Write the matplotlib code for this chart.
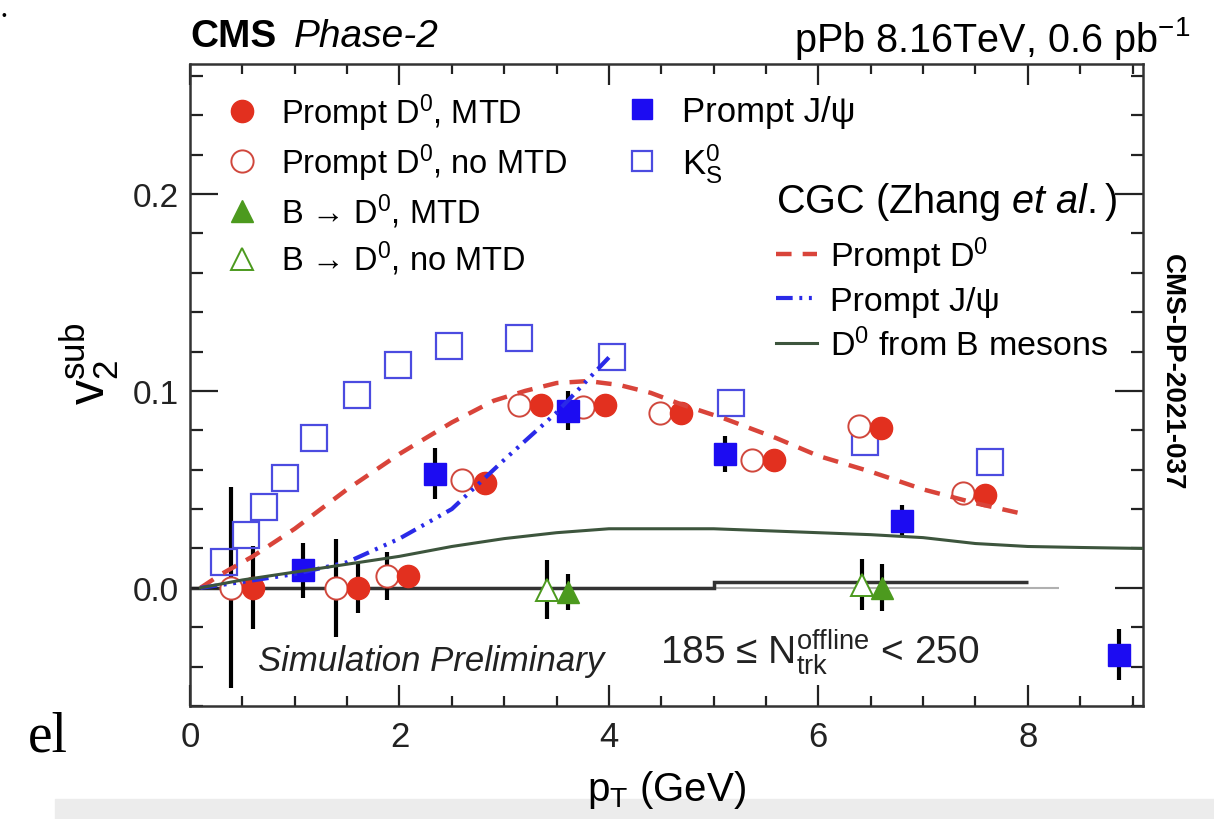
import numpy as np
import matplotlib
matplotlib.use("Agg")
import matplotlib.pyplot as plt
from matplotlib.lines import Line2D
from matplotlib.patches import Rectangle

plt.rcParams['font.family'] = ['Liberation Sans', 'DejaVu Sans']
plt.rcParams['mathtext.fontset'] = 'custom'
plt.rcParams['mathtext.rm'] = 'Liberation Sans'
plt.rcParams['mathtext.it'] = 'Liberation Sans:italic'
plt.rcParams['mathtext.bf'] = 'Liberation Sans:bold'

# Prompt D0 with MTD (filled red circles)
d0_mtd_pt = [0.60, 1.60, 2.08, 2.82, 3.35, 3.96, 4.69, 5.58, 6.60, 7.59]
d0_mtd_v2 = [0.000, 0.000, 0.006, 0.053, 0.093, 0.093, 0.089, 0.065, 0.081, 0.047]
d0_mtd_err = [0.021, 0.013, 0.004, 0.003, 0.003, 0.003, 0.003, 0.003, 0.003, 0.003]

# Prompt D0 without MTD (open red circles)
d0_nomtd_pt = [0.39, 1.39, 1.88, 2.60, 3.14, 3.75, 4.49, 5.37, 6.39, 7.38]
d0_nomtd_v2 = [0.000, 0.000, 0.006, 0.055, 0.093, 0.092, 0.089, 0.065, 0.082, 0.048]
d0_nomtd_err = [0.051, 0.025, 0.012, 0.004, 0.003, 0.003, 0.003, 0.003, 0.003, 0.003]

# B -> D0
b_mtd_pt = [3.61, 6.61]
b_mtd_v2 = [-0.002, 0.000]
b_mtd_err = [0.009, 0.012]
b_nomtd_pt = [3.41, 6.42]
b_nomtd_v2 = [-0.001, 0.0015]
b_nomtd_err = [0.015, 0.013]

# Prompt J/psi
jpsi_pt = [1.08, 2.34, 3.61, 5.11, 6.80, 8.87]
jpsi_v2 = [0.009, 0.058, 0.090, 0.068, 0.034, -0.034]
jpsi_err = [0.014, 0.013, 0.010, 0.009, 0.008, 0.013]

# K0S
ks_pt = [0.32, 0.53, 0.71, 0.91, 1.18, 1.59, 1.99, 2.47, 3.14, 4.03, 5.17, 6.45, 7.64]
ks_v2 = [0.013, 0.027, 0.041, 0.056, 0.076, 0.098, 0.113, 0.123, 0.127, 0.117, 0.094, 0.074, 0.064]

# CGC curves
cgc_d0_pt = [0.1, 0.3, 0.6, 1.0, 1.5, 2.0, 2.5, 2.9, 3.2, 3.5, 3.8, 4.1, 4.4, 4.7, 5.1, 5.6,
             6.0, 6.5, 7.0, 7.5, 8.0]
cgc_d0_v2 = [0.0, 0.007, 0.016, 0.030, 0.050, 0.068, 0.084, 0.095, 0.100, 0.104, 0.105, 0.103,
             0.099, 0.093, 0.086, 0.076, 0.067, 0.059, 0.050, 0.043, 0.037]
cgc_jpsi_pt = [0.1, 0.5, 1.0, 1.5, 2.0, 2.5, 3.0, 3.5, 4.0]
cgc_jpsi_v2 = [0.0, 0.003, 0.007, 0.013, 0.025, 0.040, 0.065, 0.089, 0.117]
cgc_b_pt = [0.1, 0.5, 1.0, 1.5, 2.0, 2.5, 3.0, 3.5, 4.0, 4.5, 5.0, 5.5, 6.0, 6.5, 7.0, 7.5, 8.0, 8.5, 9.1]
cgc_b_v2 = [0.0, 0.004, 0.008, 0.012, 0.016, 0.021, 0.025, 0.028, 0.030, 0.030, 0.030, 0.029,
            0.028, 0.027, 0.0255, 0.0225, 0.021, 0.0205, 0.020]

# baseline step near zero
base_edges = [0.0, 5.0, 8.0]
base_vals = [0.0, 0.003]

red = '#e2301f'
red_open = '#d0473c'
blue = '#1c0cf2'
blue_open = '#4b4be0'
green = '#4c9a1e'
dkgreen = '#3d553d'

W, H = 1214, 820
fig = plt.figure(figsize=(W / 100, H / 100), dpi=100)
ax = fig.add_axes([190 / W, 1 - 707 / H, 953 / W, 642 / H])


def fx(px):
    return px / W


def fy(py):
    return 1 - py / H


ax.hlines(0, 0, 8.3, color='#b0b0b0', lw=1.5, zorder=1)
ax.stairs(base_vals, base_edges, color='#333333', lw=2.5, baseline=None, zorder=1.5)

ekw = dict(fmt='none', ecolor='black', elinewidth=3, capsize=0, zorder=2)
ax.errorbar(d0_nomtd_pt, d0_nomtd_v2, yerr=d0_nomtd_err, **ekw)
ax.errorbar(d0_mtd_pt, d0_mtd_v2, yerr=d0_mtd_err, **ekw)
ax.errorbar(jpsi_pt, jpsi_v2, yerr=jpsi_err, **ekw)
ax.errorbar(b_mtd_pt, b_mtd_v2, yerr=b_mtd_err, **ekw)
ax.errorbar(b_nomtd_pt, b_nomtd_v2, yerr=b_nomtd_err, **ekw)

ax.plot(ks_pt, ks_v2, 's', ms=19, mfc='none', mec=blue_open, mew=1.6, zorder=3)
ax.plot(d0_nomtd_pt, d0_nomtd_v2, 'o', ms=16, mfc='white', mec=red_open, mew=1.4, zorder=3)
ax.plot(d0_mtd_pt, d0_mtd_v2, 'o', ms=16, mfc=red, mec=red, zorder=3)
ax.plot(jpsi_pt, jpsi_v2, 's', ms=16, mfc=blue, mec=blue, zorder=3)
ax.plot(b_nomtd_pt, b_nomtd_v2, '^', ms=16, mfc='white', mec=green, mew=1.4, zorder=3)
ax.plot(b_mtd_pt, b_mtd_v2, '^', ms=16, mfc=green, mec=green, zorder=3)

l_d0, = ax.plot(cgc_d0_pt, cgc_d0_v2, color='#d9443a', lw=3.2, dashes=(3.5, 2.5), zorder=4)
l_jp, = ax.plot(cgc_jpsi_pt, cgc_jpsi_v2, color='#2a2ae8', lw=3,
                dashes=(4, 1.6, 0.7, 1.6, 0.7, 1.6, 0.7, 1.6), zorder=4)
l_b, = ax.plot(cgc_b_pt, cgc_b_v2, color=dkgreen, lw=2.2, zorder=4)

ax.set_xlim(0, 9.1)
ax.set_ylim(-0.06, 0.266)
ax.set_xticks([0, 2, 4, 6, 8])
ax.set_xticks(np.arange(0, 9.1, 0.5), minor=True)
ax.set_yticks([0.0, 0.1, 0.2])
ax.set_yticklabels(['0.0', '0.1', '0.2'])
ax.set_yticks(np.arange(-0.06, 0.27, 0.02), minor=True)
ax.tick_params(which='both', direction='in', top=True, right=True, width=1.6,
               colors='#222222')
ax.tick_params(axis='x', which='major', length=15, pad=10, labelsize=25)
ax.tick_params(axis='x', which='minor', length=7)
ax.tick_params(axis='y', which='major', length=20, pad=8, labelsize=24)
ax.tick_params(axis='y', which='minor', length=9)
for s in ax.spines.values():
    s.set_linewidth(1.8)
    s.set_color('#333333')

ax.set_xlabel(r'p$_\mathregular{T}$ (GeV)', fontsize=29, labelpad=11)
ax.set_ylabel(r'$\mathregular{v_2^{sub}}$', fontsize=36)
ax.yaxis.set_label_coords(-0.071, 0.535)

# marker legends
h1 = [Line2D([], [], ls='none', marker='o', ms=16, mfc=red, mec=red),
      Line2D([], [], ls='none', marker='o', ms=16, mfc='white', mec=red_open, mew=1.4),
      Line2D([], [], ls='none', marker='^', ms=16, mfc=green, mec=green),
      Line2D([], [], ls='none', marker='^', ms=16, mfc='white', mec=green, mew=1.4)]
t1 = [r'Prompt $\mathregular{D^0}$, MTD', r'Prompt $\mathregular{D^0}$, no MTD',
      r'B → $\mathregular{D^0}$, MTD', r'B → $\mathregular{D^0}$, no MTD']
leg1 = fig.legend(h1, t1, loc='upper left', bbox_to_anchor=(fx(229), fy(92)), frameon=False,
                  fontsize=23.5, handlelength=0.8, handletextpad=0.78, labelspacing=0.27,
                  borderpad=0, borderaxespad=0)

h2 = [Line2D([], [], ls='none', marker='s', ms=15, mfc=blue, mec=blue),
      Line2D([], [], ls='none', marker='s', ms=15, mfc='none', mec=blue_open, mew=1.6)]
t2 = [r'Prompt J/ψ', r'$\mathregular{K^0_S}$']
leg2 = fig.legend(h2, t2, loc='upper left', bbox_to_anchor=(fx(628), fy(96)), frameon=False,
                  fontsize=25, handlelength=0.8, handletextpad=0.75, labelspacing=0.38,
                  borderpad=0, borderaxespad=0)

leg3 = fig.legend([l_d0, l_jp, l_b],
                  [r'Prompt $\mathregular{D^0}$', r'Prompt J/ψ', r'$\mathregular{D^0}$ from B mesons'],
                  loc='upper left', bbox_to_anchor=(fx(776), fy(181)), frameon=False,
                  fontsize=24.5, handlelength=1.2, handletextpad=0.4, labelspacing=0.3,
                  borderpad=0, borderaxespad=0, alignment='left',
                  title=r'CGC (Zhang $\it{et\ al.}$)', title_fontsize=28.5)
leg3._legend_box.sep = 9

# header and annotations
fig.text(fx(190), fy(37), 'CMS', fontsize=28, fontweight='bold', va='center', ha='left')
fig.text(fx(294), fy(37), 'Phase-2', fontsize=28, style='italic', va='center', ha='left')
fig.text(fx(1190), fy(38), r'pPb 8.16TeV, 0.6 pb$^\mathregular{-1}$', fontsize=28.5,
         va='center', ha='right')
fig.text(fx(1172), fy(372), 'CMS-DP-2021-037', fontsize=20, fontweight='bold',
         rotation=270, va='center', ha='center')
fig.text(fx(258), fy(662), 'Simulation Preliminary', fontsize=25, style='italic',
         va='center', ha='left', color='#222222')
fig.text(fx(660), fy(652), r'185 ≤ $\mathregular{N_{trk}^{offline}}$ < 250', fontsize=28,
         va='center', ha='left', color='#222222')

# screenshot remnants
fig.text(fx(28), fy(738), 'el', fontsize=40, family='Liberation Serif', va='center', ha='left')
fig.text(fx(2), fy(16), '•', fontsize=10, va='center', ha='left')
fig.patches.append(Rectangle((fx(55), 0), 1 - fx(55), fy(800), transform=fig.transFigure,
                             color='#ececec', zorder=-1))

fig.savefig('out.png', dpi=100)
